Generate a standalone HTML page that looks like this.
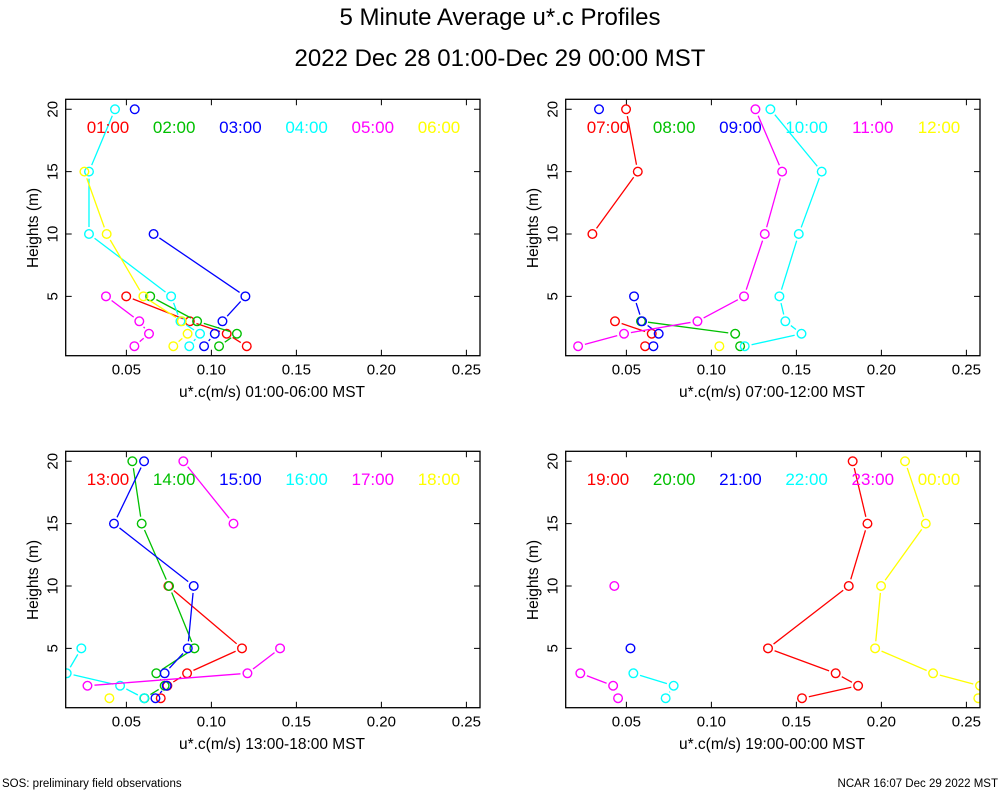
<!DOCTYPE html>
<html><head><meta charset="utf-8"><style>
html,body{margin:0;padding:0;background:#fff}
svg{display:block;font-family:"Liberation Sans",sans-serif}
</style></head><body>
<svg id="chart" width="1000" height="800" viewBox="0 0 1000 800">
<text x="500" y="25" font-size="24" text-anchor="middle">5 Minute Average u*.c Profiles</text>
<text x="500" y="66" font-size="24" text-anchor="middle">2022 Dec 28 01:00-Dec 29 00:00 MST</text>
<text x="2" y="787" font-size="11.5">SOS: preliminary field observations</text>
<text x="998" y="787" font-size="11.5" text-anchor="end">NCAR 16:07 Dec 29 2022 MST</text>
<g id="plots"></g>
</svg>
<script>
const heights = [1,2,3,5,10,15,20];
const xTicks = [0.05,0.10,0.15,0.20,0.25];
const xTickLabels = ["0.05","0.10","0.15","0.20","0.25"];
const yTicks = [5,10,15,20];
const colors = ["#ff0000","#00c000","#0000ff","#00ffff","#ff00ff","#ffff00"];
const panelTimes = [
  ["01:00","02:00","03:00","04:00","05:00","06:00"],
  ["07:00","08:00","09:00","10:00","11:00","12:00"],
  ["13:00","14:00","15:00","16:00","17:00","18:00"],
  ["19:00","20:00","21:00","22:00","23:00","00:00"]
];
const panelXLabels = ["u*.c(m/s) 01:00-06:00 MST","u*.c(m/s) 07:00-12:00 MST","u*.c(m/s) 13:00-18:00 MST","u*.c(m/s) 19:00-00:00 MST"];
// values ordered by heights [1,2,3,5,10,15,20]; null = missing
const p1 = [
  [0.1208,0.109,0.0873,0.0499,null,null,null],
  [0.1045,0.115,0.0916,0.064,null,null,null],
  [0.0957,0.102,0.1065,0.120,0.066,null,0.0549],
  [0.087,0.0933,0.0818,0.0763,0.028,0.028,0.0433],
  [0.0547,0.0633,0.0576,0.038,null,null,null],
  [0.0776,0.086,0.0826,0.060,0.0384,0.0253,null]
];
const p2 = [
  [0.061,0.0649,0.0433,null,0.030,0.0567,0.0498],
  [0.1169,0.114,0.0586,null,null,null,null],
  [0.0659,0.069,0.0592,0.0545,null,null,0.0339],
  [0.1196,0.153,0.1435,0.140,0.1514,0.1649,0.1347],
  [0.0216,0.0486,0.0918,0.1192,0.1314,0.1416,0.1259],
  [0.1047,null,null,null,null,null,null]
];
const p3 = [
  [0.0702,0.0741,0.0857,0.118,0.0747,null,null],
  [0.0606,0.0725,0.0676,0.090,0.0751,0.059,0.0535],
  [0.0671,0.0737,0.0725,0.0861,0.0896,0.0427,0.0604],
  [0.0604,0.0463,0.0149,0.0235,null,null,null],
  [null,0.0271,0.1212,0.1404,null,0.113,0.0835],
  [0.040,null,null,null,null,null,null]
];
const p4 = [
  [0.1533,0.1863,0.1731,0.1333,0.1808,0.1918,0.1831],
  [null,null,null,null,null,null,null],
  [null,null,null,0.0524,null,null,null],
  [0.0731,0.0778,0.0541,null,null,null,null],
  [0.0451,0.0422,0.0229,null,0.0429,null,null],
  [0.257,0.258,0.2304,0.1963,0.1998,0.2261,0.2139]
];
const panels = [p1,p2,p3,p4];
const XMIN = 0.0143, XMAX = 0.258, YMIN = 0.24, YMAX = 20.8;
const NS = "http://www.w3.org/2000/svg";
const root = document.getElementById('plots');
function mk(tag, attrs, parent){const e=document.createElementNS(NS,tag);for(const k in attrs)e.setAttribute(k,attrs[k]);parent.appendChild(e);return e;}
panels.forEach((data, pi) => {
  const ox = (pi%2)*500, oy = Math.floor(pi/2)*352;
  const L = 65.7+ox, R = 480+ox, T = 99.3+oy, B = 355.7+oy;
  const sx = v => L + (v-XMIN)/(XMAX-XMIN)*(R-L);
  const sy = v => B - (v-YMIN)/(YMAX-YMIN)*(B-T);
  const g = mk('g', {}, root);
  
  
  const clipId = 'clip'+pi;
  const cp = mk('clipPath', {id:clipId}, g);
  mk('rect', {x:L, y:T, width:R-L, height:B-T}, cp);
  xTicks.forEach((t,i) => {
    const x = sx(t);
    const tk = mk('path', {d:`M${x},${B}v-6M${x},${T}v6`, stroke:'#000', 'stroke-width':1}, g);
    
    
    const lb = mk('text', {x:x, y:B+19, 'font-size':15, 'text-anchor':'middle'}, g);
    lb.textContent = xTickLabels[i];
    
    
  });
  yTicks.forEach(t => {
    const y = sy(t);
    const tk = mk('path', {d:`M${L},${y}h6M${R},${y}h-6`, stroke:'#000', 'stroke-width':1}, g);
    
    
    const lb = mk('text', {x:L-8, y:y, 'font-size':15, 'text-anchor':'middle', transform:`rotate(-90 ${L-8} ${y})`}, g);
    lb.textContent = String(t);
    
    
  });
  const yl = mk('text', {x:38+ox, y:228+oy, 'font-size':15.5, 'text-anchor':'middle', transform:`rotate(-90 ${38+ox} ${228+oy})`}, g);
  yl.textContent = 'Heights (m)';
  
  
  const xl = mk('text', {x:272+ox, y:397+oy, 'font-size':15.5, 'text-anchor':'middle'}, g);
  xl.textContent = panelXLabels[pi];
  
  
  const plotG = mk('g', {'clip-path':`url(#${clipId})`}, g);
  data.forEach((series, si) => {
    const col = colors[si];
    const sg = mk('g', {}, plotG);
    
    
    for (let k=0;k<series.length-1;k++){
      const a = series[k], b = series[k+1];
      if (a==null || b==null) continue;
      const x1=sx(a), y1=sy(heights[k]), x2=sx(b), y2=sy(heights[k+1]);
      const dx=x2-x1, dy=y2-y1, d=Math.hypot(dx,dy), g0=7;
      if (d <= 2*g0) continue;
      const ux=dx/d, uy=dy/d;
      const ln = mk('line', {x1:x1+ux*g0, y1:y1+uy*g0, x2:x2-ux*g0, y2:y2-uy*g0, stroke:col, 'stroke-width':1.3}, sg);
      
      
    }
    series.forEach((v,k) => {
      if (v==null) return;
      const c = mk('circle', {cx:sx(v), cy:sy(heights[k]), r:4.3, fill:'none', stroke:col, 'stroke-width':1.4}, sg);
      
      
    });
    const lg = mk('text', {x:108+ox+si*66.2, y:133+oy, 'font-size':17, 'text-anchor':'middle', fill:col}, g);
    lg.textContent = panelTimes[pi][si];
    
    
  });
  const box = mk('rect', {x:L, y:T, width:R-L, height:B-T, fill:'none', stroke:'#000', 'stroke-width':1.3}, g);
  
  
});
</script>
</body></html>
